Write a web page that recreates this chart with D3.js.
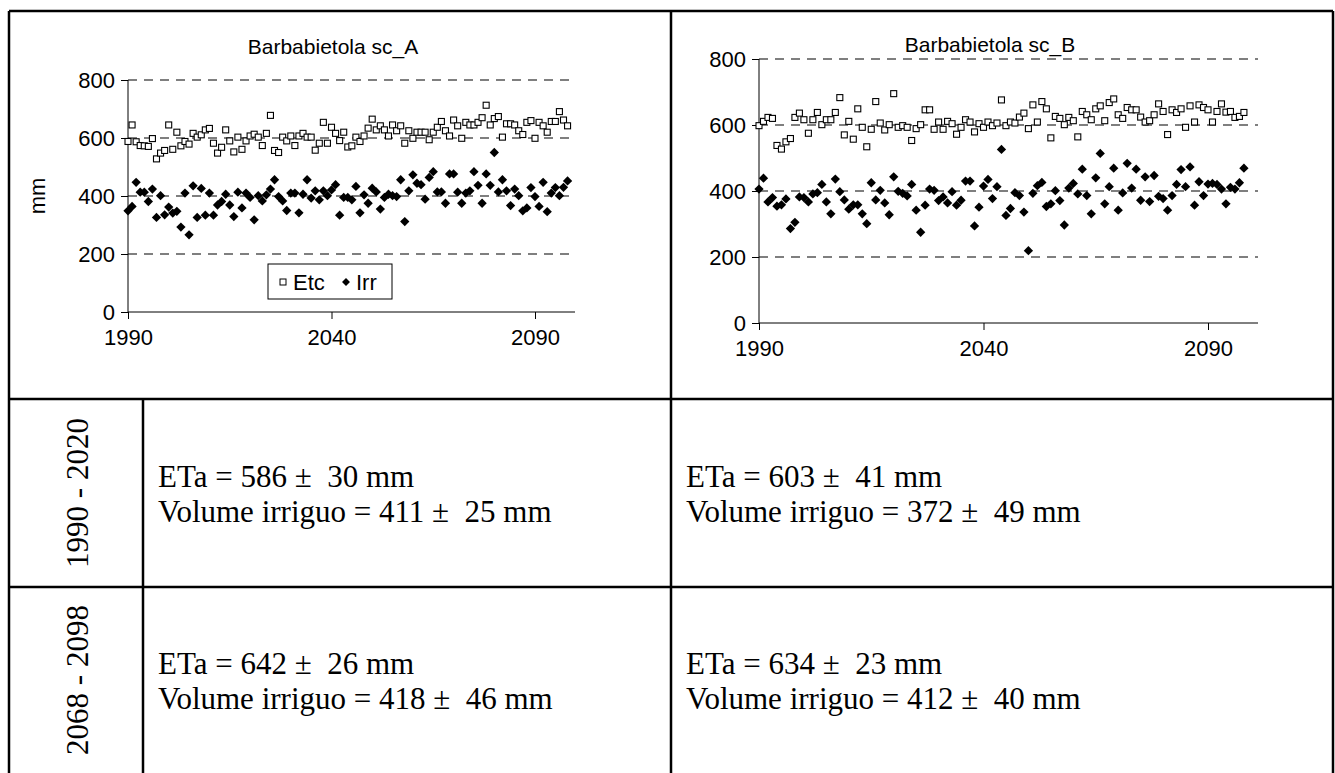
<!DOCTYPE html>
<html>
<head>
<meta charset="utf-8">
<script src="https://cdn.jsdelivr.net/npm/d3@7"></script>
<style>
  body { margin: 0; background: #fff; }
  svg text { fill: #000; white-space: pre; }
</style>
</head>
<body>
<svg id="chart" width="1335" height="773"></svg>
<script>
// Data (mm per year, starting 1990)
var etcA = [588,645,587,574,573,571,598,528,548,557,645,561,620,573,588,579,616,603,611,628,633,582,548,568,628,590,552,603,561,590,607,613,603,574,616,678,557,550,603,590,607,574,607,616,603,603,558,582,654,582,637,616,591,620,569,573,603,588,607,634,665,628,642,628,607,645,625,642,582,625,599,620,620,620,594,620,637,657,625,607,662,642,599,654,645,645,654,670,713,645,667,674,603,649,649,645,625,612,654,660,599,654,642,620,657,657,691,662,642];
var irrA = [349,364,447,413,413,381,424,326,401,335,362,341,347,293,410,266,435,326,426,334,410,334,369,381,406,369,329,413,359,410,395,318,401,383,404,424,456,398,383,350,410,410,342,406,456,393,418,387,418,401,421,439,334,395,395,387,433,342,404,375,427,414,355,395,406,401,398,456,312,418,473,444,439,389,464,484,414,414,375,476,476,413,375,410,418,484,437,375,476,437,550,414,456,418,367,424,401,349,359,429,398,364,447,346,410,429,401,430,452];
var etcB = [598,611,623,620,538,527,549,559,623,636,616,575,616,638,601,616,616,638,683,570,611,557,649,593,534,587,671,606,585,601,695,593,598,593,553,589,601,646,646,587,609,587,611,604,572,593,616,609,579,604,593,609,598,606,676,598,609,606,624,636,589,661,609,671,649,561,626,620,601,623,613,564,641,631,616,649,658,613,668,679,631,620,653,646,646,624,609,613,631,664,641,571,646,638,649,593,658,609,661,653,646,609,641,664,639,641,623,626,638];
var irrB = [406,439,367,380,354,358,376,286,305,382,380,367,391,395,420,367,331,436,398,373,345,358,358,331,301,425,373,402,364,328,443,399,393,385,420,342,275,357,406,402,371,382,364,398,357,372,430,430,294,351,415,435,377,413,526,326,347,395,386,336,219,393,416,426,353,361,401,371,297,409,423,391,466,386,331,440,514,361,413,469,342,394,484,409,466,372,443,368,447,384,377,342,386,420,465,413,473,357,428,386,421,423,420,406,361,411,406,425,469];
var startYear = 1990;
var xTicks = [1990, 2040, 2090];
var yTicks = [0, 200, 400, 600, 800];
var gridValues = [200, 400, 600, 800];

var rowTexts = [
  ["1990 - 2020", "ETa = 586 \u00b1  30 mm", "Volume irriguo = 411 \u00b1  25 mm", "ETa = 603 \u00b1  41 mm", "Volume irriguo = 372 \u00b1  49 mm"],
  ["2068 - 2098", "ETa = 642 \u00b1  26 mm", "Volume irriguo = 418 \u00b1  46 mm", "ETa = 634 \u00b1  23 mm", "Volume irriguo = 412 \u00b1  40 mm"]
];

var svg = d3.select("#chart");

// table borders
var line = function(x1, y1, x2, y2) {
  svg.append("line").attr("x1", x1).attr("y1", y1).attr("x2", x2).attr("y2", y2)
     .attr("stroke", "#000").attr("stroke-width", 2.5);
};
line(9, 11, 1333, 11);
line(9, 11, 9, 773);
line(1333, 11, 1333, 773);
line(671, 11, 671, 773);
line(143, 399, 143, 773);
line(9, 399, 1333, 399);
line(9, 587, 1333, 587);

// text rows
var rowBounds = [[399, 587], [587, 773]];
rowTexts.forEach(function(r, i) {
  var mid = (rowBounds[i][0] + rowBounds[i][1]) / 2;
  svg.append("text").attr("transform", "translate(88," + mid + ") rotate(-90)")
     .attr("text-anchor", "middle").attr("font-family", "Liberation Serif")
     .attr("font-size", 31).text(r[0]);
  [[158, 1], [686, 3]].forEach(function(c) {
    svg.append("text").attr("x", c[0]).attr("y", mid - 6).attr("font-family", "Liberation Serif")
       .attr("font-size", 31).text(r[c[1]]);
    svg.append("text").attr("x", c[0]).attr("y", mid + 29).attr("font-family", "Liberation Serif")
       .attr("font-size", 31).text(r[c[1] + 1]);
  });
});

function drawChart(opt) {
  var x = d3.scaleLinear().domain([1990, 2100]).range([opt.x0, opt.x0 + 110 * opt.pxYear]);
  var y = d3.scaleLinear().domain([0, 800]).range([opt.y0, opt.y1]);
  var g = svg.append("g").attr("font-family", "Liberation Sans");

  g.selectAll(".grid").data(gridValues).join("line")
    .attr("x1", opt.x0).attr("x2", opt.xEnd)
    .attr("y1", function(d) { return y(d); }).attr("y2", function(d) { return y(d); })
    .attr("stroke", "#555").attr("stroke-width", 1.3).attr("stroke-dasharray", "9,7");

  var xa = g.append("g").attr("transform", "translate(0," + opt.y0 + ")")
    .call(d3.axisBottom(x).tickValues(xTicks).tickFormat(d3.format("d")).tickSize(7).tickPadding(10));
  xa.select(".domain").attr("d", "M" + opt.x0 + ",0H" + opt.xEnd);
  var ya = g.append("g").attr("transform", "translate(" + opt.x0 + ",0)")
    .call(d3.axisLeft(y).tickValues(yTicks).tickSize(7).tickPadding(6));
  ya.select(".domain").attr("d", "M0," + opt.y0 + "V" + opt.y1);
  g.selectAll(".tick text").attr("font-size", 22).attr("fill", "#000");
  g.selectAll(".domain, .tick line").attr("stroke", "#000");

  g.append("text").attr("x", opt.titleX).attr("y", opt.titleY).attr("text-anchor", "middle")
    .attr("font-size", 21).text(opt.title);

  g.selectAll(".irr").data(opt.irr).join("path")
    .attr("d", d3.symbol(d3.symbolDiamond2, 55))
    .attr("transform", function(d, i) { return "translate(" + x(startYear + i) + "," + y(d) + ")"; })
    .attr("fill", "#000");
  g.selectAll(".etc").data(opt.etc).join("rect")
    .attr("x", function(d, i) { return x(startYear + i) - 3; })
    .attr("y", function(d) { return y(d) - 3; })
    .attr("width", 6).attr("height", 6)
    .attr("fill", "#fff").attr("stroke", "#000").attr("stroke-width", 1.1);
  return g;
}

var gA = drawChart({x0: 128, pxYear: 4.07, xEnd: 575, y0: 312, y1: 80, etc: etcA, irr: irrA,
  title: "Barbabietola sc_A", titleX: 333, titleY: 54});
drawChart({x0: 759, pxYear: 4.49, xEnd: 1258, y0: 323, y1: 59, etc: etcB, irr: irrB,
  title: "Barbabietola sc_B", titleX: 990, titleY: 52});

gA.append("text").attr("transform", "translate(45,196) rotate(-90)").attr("text-anchor", "middle")
  .attr("font-size", 22).text("mm");

// legend
var leg = gA.append("g").attr("transform", "translate(268,264)");
leg.append("rect").attr("width", 124).attr("height", 35).attr("fill", "#fff").attr("stroke", "#000");
leg.append("rect").attr("x", 12).attr("y", 15).attr("width", 6).attr("height", 6)
   .attr("fill", "#fff").attr("stroke", "#000");
leg.append("text").attr("x", 25).attr("y", 26).attr("font-size", 22).text("Etc");
leg.append("path").attr("d", d3.symbol(d3.symbolDiamond2, 40)).attr("transform", "translate(78,18)");
leg.append("text").attr("x", 88).attr("y", 26).attr("font-size", 22).text("Irr");
</script>
</body>
</html>
